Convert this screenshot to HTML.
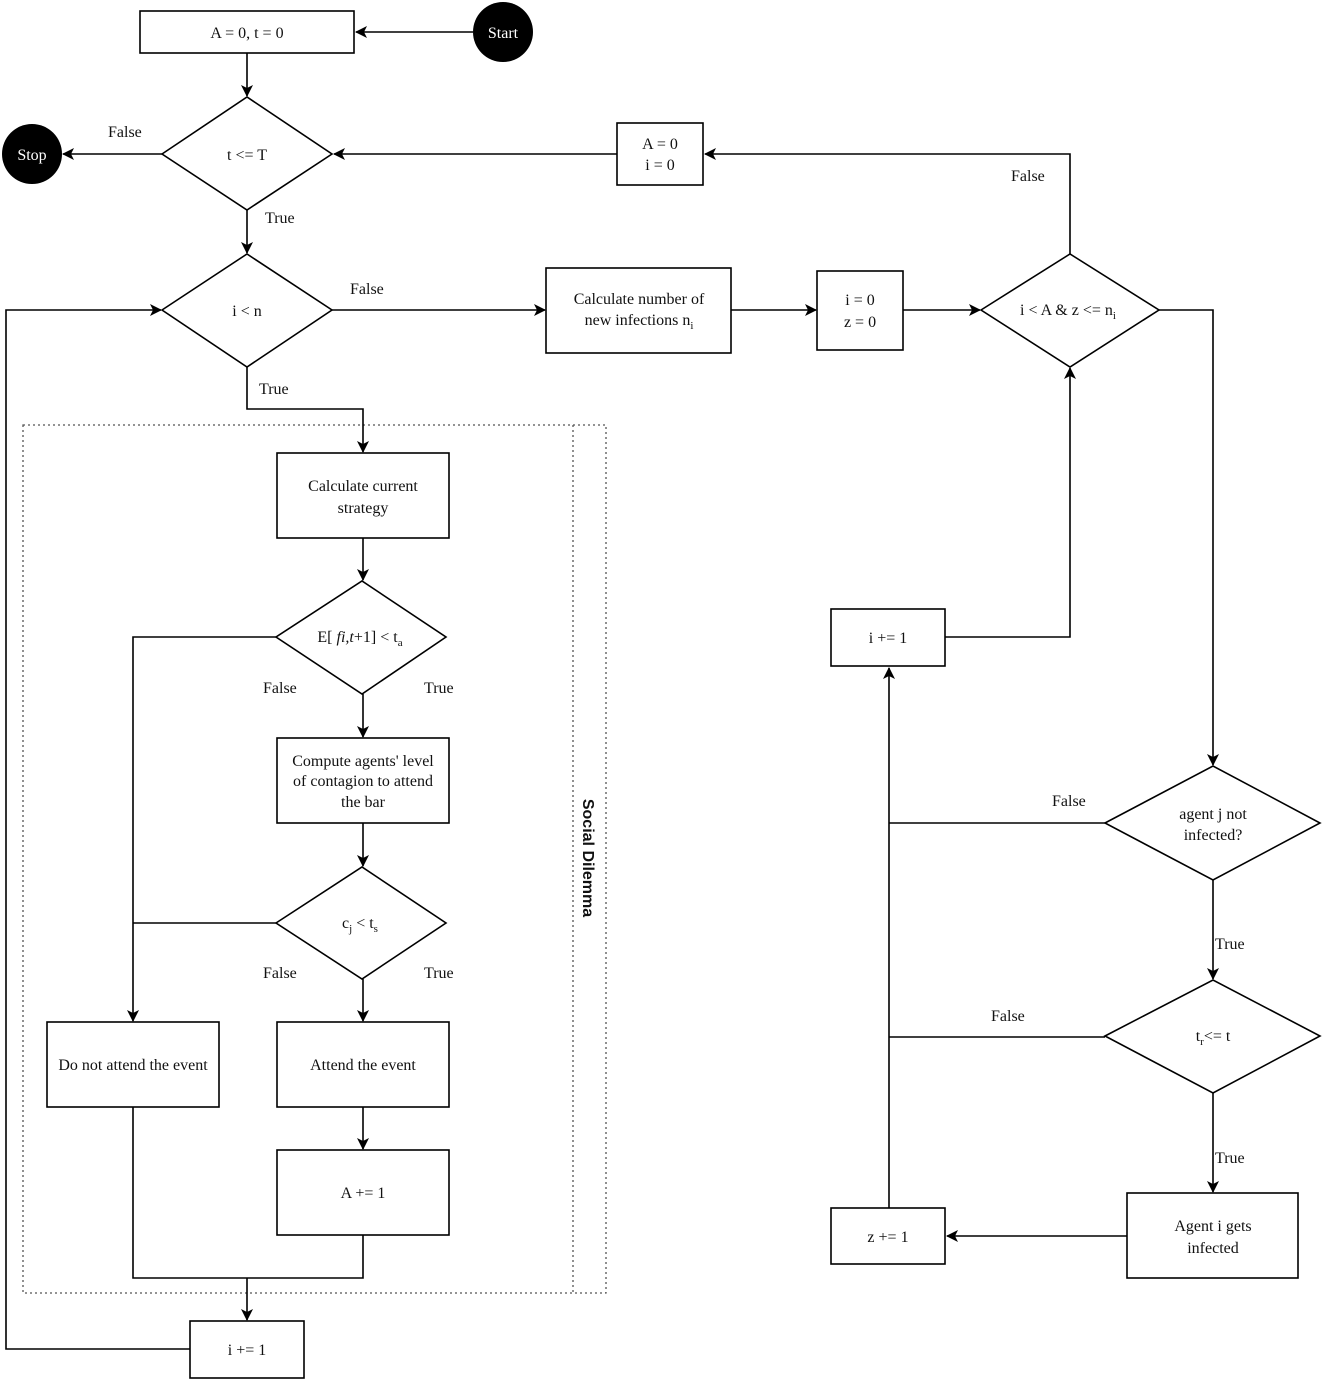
<!DOCTYPE html>
<html><head><meta charset="utf-8"><style>
html,body{margin:0;padding:0;background:#fff}
svg{display:block}
text{font-family:"Liberation Serif",serif;font-size:16px;fill:#111}
</style></head><body>
<svg width="1325" height="1383" viewBox="0 0 1325 1383" xmlns="http://www.w3.org/2000/svg">
<defs>
<marker id="a" viewBox="0 0 12 12" refX="11" refY="6" markerWidth="12" markerHeight="12" markerUnits="userSpaceOnUse" orient="auto">
<path d="M0,0 L12,6 L0,12 L3,6 Z" fill="#000"/></marker>
</defs>
<g fill="none" stroke="#000" stroke-width="1.6">
<rect x="140" y="11" width="214" height="42"/>
<polygon points="162,154 247,97 332,154 247,210"/>
<rect x="617" y="123" width="86" height="62"/>
<polygon points="162,310 247,254 332,310 247,367"/>
<rect x="546" y="268" width="185" height="85"/>
<rect x="817" y="271" width="86" height="79"/>
<polygon points="981,310 1070,254 1159,310 1070,367"/>
<rect x="277" y="453" width="172" height="85"/>
<polygon points="276,637 362,581 446,637 362,694"/>
<rect x="277" y="738" width="172" height="85"/>
<polygon points="276,923 362,867 446,923 362,979"/>
<rect x="47" y="1022" width="172" height="85"/>
<rect x="277" y="1022" width="172" height="85"/>
<rect x="277" y="1150" width="172" height="85"/>
<rect x="190" y="1321" width="114" height="57"/>
<polygon points="1105,823 1213,766 1320,823 1213,880"/>
<polygon points="1105,1036 1213,980 1320,1036 1213,1093"/>
<rect x="1127" y="1193" width="171" height="85"/>
<rect x="831" y="1208" width="114" height="56"/>
<rect x="831" y="609" width="114" height="57"/>
</g>
<g fill="none" stroke="#555" stroke-width="1.3" stroke-dasharray="2,3">
<rect x="23" y="425" width="583" height="868"/>
<line x1="573" y1="425" x2="573" y2="1293"/>
</g>
<g fill="none" stroke="#000" stroke-width="1.6" marker-end="url(#a)">
<line x1="473" y1="32" x2="356" y2="32"/>
<line x1="247" y1="53" x2="247" y2="96"/>
<line x1="162" y1="154" x2="63" y2="154"/>
<line x1="247" y1="210" x2="247" y2="253"/>
<line x1="617" y1="154" x2="334" y2="154"/>
<polyline points="1070,254 1070,154 705,154"/>
<line x1="332" y1="310" x2="545" y2="310"/>
<line x1="731" y1="310" x2="816" y2="310"/>
<line x1="903" y1="310" x2="980" y2="310"/>
<polyline points="247,367 247,409 363,409 363,452"/>
<line x1="363" y1="538" x2="363" y2="580"/>
<line x1="363" y1="694" x2="363" y2="737"/>
<line x1="363" y1="823" x2="363" y2="866"/>
<polyline points="276,637 133,637 133,1021"/>
<line x1="363" y1="979" x2="363" y2="1021"/>
<line x1="363" y1="1107" x2="363" y2="1149"/>
<polyline points="247,1278 247,1320"/>
<polyline points="190,1349 6,1349 6,310 161,310"/>
<polyline points="1159,310 1213,310 1213,765"/>
<line x1="1213" y1="880" x2="1213" y2="979"/>
<line x1="1213" y1="1093" x2="1213" y2="1192"/>
<line x1="1127" y1="1236" x2="947" y2="1236"/>
<polyline points="889,1208 889,668"/>
<polyline points="945,637 1070,637 1070,368"/>
</g>
<g fill="none" stroke="#000" stroke-width="1.6">
<line x1="276" y1="923" x2="133" y2="923"/>
<polyline points="133,1107 133,1278 363,1278 363,1235"/>
<line x1="1105" y1="823" x2="889" y2="823"/>
<line x1="1105" y1="1037" x2="889" y2="1037"/>
</g>
<circle cx="503" cy="32" r="30" fill="#000"/>
<circle cx="32" cy="154" r="30" fill="#000"/>
<g text-anchor="middle">
<text x="503" y="38" style="fill:#fff">Start</text>
<text x="32" y="160" style="fill:#fff">Stop</text>
<text x="247" y="38">A = 0, t = 0</text>
<text x="247" y="160">t &lt;= T</text>
<text x="660" y="149">A = 0</text>
<text x="660" y="170">i = 0</text>
<text x="247" y="316">i &lt; n</text>
<text x="639" y="304">Calculate number of</text>
<text x="639" y="325">new infections n<tspan font-size="11" dy="4">i</tspan></text>
<text x="860" y="305">i = 0</text>
<text x="860" y="327">z = 0</text>
<text x="1068" y="315">i &lt; A &amp; z &lt;= n<tspan font-size="11" dy="4">i</tspan></text>
<text x="363" y="491">Calculate current</text>
<text x="363" y="513">strategy</text>
<text x="360" y="642">E[ <tspan font-style="italic">fi,t</tspan>+1] &lt; t<tspan font-size="11" dy="4">a</tspan></text>
<text x="363" y="766">Compute agents' level</text>
<text x="363" y="786">of contagion to attend</text>
<text x="363" y="807">the bar</text>
<text x="360" y="928">c<tspan font-size="11" dy="4">j</tspan><tspan dy="-4"> &lt; t</tspan><tspan font-size="11" dy="4">s</tspan></text>
<text x="133" y="1070">Do not attend the event</text>
<text x="363" y="1070">Attend the event</text>
<text x="363" y="1198">A += 1</text>
<text x="247" y="1355">i += 1</text>
<text x="888" y="643">i += 1</text>
<text x="888" y="1242">z += 1</text>
<text x="1213" y="819">agent j not</text>
<text x="1213" y="840">infected?</text>
<text x="1213" y="1041">t<tspan font-size="11" dy="4">r</tspan><tspan dy="-4">&lt;= t</tspan></text>
<text x="1213" y="1231">Agent i gets</text>
<text x="1213" y="1253">infected</text>
</g>
<g>
<text x="108" y="137">False</text>
<text x="265" y="223">True</text>
<text x="350" y="294">False</text>
<text x="259" y="394">True</text>
<text x="1011" y="181">False</text>
<text x="263" y="693">False</text>
<text x="424" y="693">True</text>
<text x="263" y="978">False</text>
<text x="424" y="978">True</text>
<text x="1052" y="806">False</text>
<text x="1215" y="949">True</text>
<text x="991" y="1021">False</text>
<text x="1215" y="1163">True</text>
</g>
<text transform="translate(583,858) rotate(90)" text-anchor="middle" style="font-family:'Liberation Sans',sans-serif;font-weight:bold;font-size:16px">Social Dilemma</text>
</svg>
</body></html>
